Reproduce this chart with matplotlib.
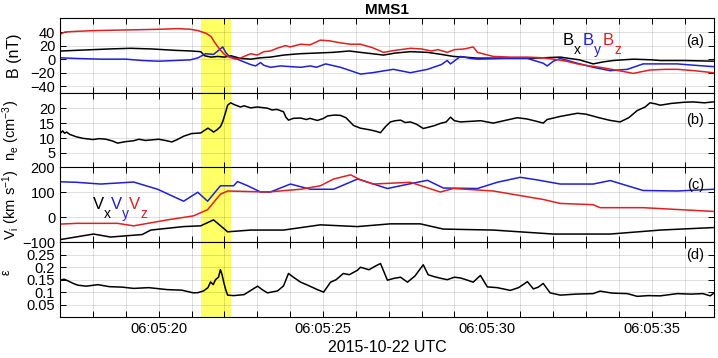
import matplotlib.pyplot as plt
from matplotlib.ticker import MultipleLocator

plt.rcParams['font.family'] = ['Liberation Sans', 'DejaVu Sans']
plt.rcParams['mathtext.fontset'] = 'custom'
plt.rcParams['mathtext.rm'] = 'Liberation Sans'
plt.rcParams['mathtext.it'] = 'Liberation Sans:italic'

# time in seconds after 06:05:00 UTC, 2015-10-22
t_bz = [17.02, 17.15, 17.5, 18.0, 19.0, 20.0, 20.6, 20.97, 21.2, 21.45, 21.6, 21.7, 21.85, 22.0, 22.15, 22.34, 22.5,
        22.8, 23.0, 23.2, 23.4, 23.6, 23.86, 24.0, 24.32, 24.6, 24.92, 25.2, 25.53, 25.84, 26.14, 26.5, 26.84, 27.2,
        27.66, 28.0, 28.3, 28.5, 28.78, 29.0, 29.3, 29.57, 29.7, 30.18, 30.7, 31.22, 31.7, 32.01, 32.4, 32.74, 33.1,
        33.43, 33.9, 34.44, 34.95, 35.4, 35.78, 36.3, 36.87]
bz = [37, 40, 41, 42, 43, 44, 45, 44, 42, 38, 33, 25, 15, 7, 3, 0, 2,
      8, 6, 11, 12, 16, 20, 18, 22, 21, 28, 27, 24, 22, 22, 17, 10, 13,
      16, 15, 12, 14, 10, 14, 15, 18, 10, 4, 3, 3, 2, 0, -3, -7, -10,
      -12, -16, -21, -16, -15, -15, -17, -20]

t_bx = [17.02, 17.5, 18.5, 19.15, 19.8, 20.5, 21.0, 21.28, 21.4, 21.6, 21.8, 22.0, 22.2, 22.5, 22.8, 23.1, 23.4, 23.8,
        24.3, 24.8, 25.3, 25.8, 26.14, 26.5, 26.84, 27.2, 27.66, 28.18, 28.6, 28.97, 29.3, 29.7, 30.5, 31.4, 32.22,
        32.8, 33.22, 33.53, 33.83, 34.44, 35.0, 35.26, 36.0, 36.87]
bx = [12, 13, 15, 16, 15, 13, 12, 11, 5, 3, 4, 3, 5, 1, 0, 2, 3, 6,
      8, 9, 10, 12, 10, 8, 6, 9, 11, 10, 7, 4, 3, 1.5, 1.5, 1.5, 3,
      -1, -7, -4, -2, 0, -1, -2, -2, -3]

t_by = [17.02, 17.5, 18.24, 19.0, 19.5, 20.0, 20.5, 20.97, 21.2, 21.43, 21.67, 21.8, 21.95, 22.04, 22.13, 22.3, 22.49,
        22.8, 22.95, 23.1, 23.2, 23.4, 23.71, 24.0, 24.32, 24.62, 24.8, 25.08, 25.53, 25.84, 26.14, 26.5, 27.14,
        27.66, 28.18, 28.6, 28.78, 28.88, 29.18, 29.5, 29.7, 30.5, 31.22, 31.7, 31.82, 32.01, 32.22, 32.74, 33.22,
        33.74, 34.26, 34.74, 35.78, 36.3, 36.87]
by = [2, 1, 0, 0, -2, -3, -2, -1, 2, 8, 7, 12, 18, 10, 5, 2, -2,
      -8, -10, -5, -9, -12, -10, -11, -12, -10, -12, -7, -12, -17, -22, -20, -15,
      -20, -15, -8, -2, -7, 4, 1, 0, 1, 1, -6, -10, -3, 1, -6, -12,
      -17, -15, -7, -7, -9, -11]

t_ne = [17.02, 17.08, 17.14, 17.2, 17.3, 17.5, 17.7, 18.0, 18.2, 18.4, 18.6, 18.75, 19.0, 19.24, 19.4, 19.6, 19.8,
        20.0, 20.2, 20.4, 20.55, 20.76, 21.0, 21.28, 21.4, 21.5, 21.6, 21.67, 21.78, 21.88, 21.95, 22.02, 22.1, 22.19,
        22.3, 22.49, 22.6, 22.8, 23.0, 23.31, 23.45, 23.6, 23.8, 23.87, 23.95, 24.1, 24.32, 24.5, 24.6, 24.83, 25.0,
        25.14, 25.35, 25.53, 25.7, 25.93, 26.14, 26.4, 26.6, 26.75, 26.9, 27.05, 27.2, 27.36, 27.5, 27.66, 27.85,
        28.05, 28.2, 28.4, 28.57, 28.75, 28.88, 29.0, 29.18, 29.5, 29.8, 30.18, 30.5, 30.91, 31.2, 31.5, 31.7, 31.82,
        32.2, 32.74, 33.0, 33.4, 33.74, 34.04, 34.3, 34.56, 34.8, 34.95, 35.1, 35.26, 35.6, 36.0, 36.26, 36.6, 36.87]
ne = [11.7, 12.4, 11.6, 12.0, 11.2, 10.4, 9.9, 9.5, 9.8, 9.6, 9.0, 8.3, 8.8, 9.1, 9.6, 9.2, 9.4,
      9.6, 9.2, 8.7, 9.4, 10.6, 11.5, 11.7, 12.6, 13.3, 12.6, 12.0, 12.8, 13.8, 15.5, 18.0, 21.0, 21.8,
      21.2, 20.4, 20.8, 20.1, 20.4, 20.0, 19.4, 19.6, 18.8, 17.0, 16.0, 16.6, 16.7, 16.2, 16.6, 15.9, 16.5,
      17.4, 17.7, 17.6, 16.8, 14.2, 13.3, 12.8, 12.3, 11.8, 13.8, 15.4, 15.8, 16.0, 15.2, 15.4, 14.6,
      13.2, 13.6, 14.2, 14.9, 15.4, 17.0, 15.8, 15.4, 15.6, 15.8, 15.0, 15.8, 16.8, 16.4, 15.6, 15.0, 16.2,
      17.2, 18.3, 18.0, 16.8, 15.9, 15.4, 16.8, 19.2, 20.4, 21.8, 21.5, 21.0, 21.6, 22.0, 22.1, 21.8, 22.1]

t_vy = [17.02, 17.5, 18.24, 19.24, 19.97, 20.76, 21.19, 21.49, 21.88, 22.28, 22.4, 22.71, 23.1, 23.4, 24.01, 24.62,
        25.32, 26.05, 26.14, 26.96, 27.5, 28.18, 28.66, 29.7, 30.3, 31.0, 31.5, 32.22, 33.22, 33.74, 34.74, 35.78, 36.87]
vy = [142, 140, 133, 141, 112, 64, 100, 64, 126, 126, 143, 126, 101, 101, 133, 112,
      112, 153, 150, 115, 130, 148, 117, 115, 140, 160, 150, 133, 133, 147, 107, 105, 112]

t_vz = [17.02, 17.5, 18.75, 19.24, 20.27, 21.06, 21.49, 21.88, 22.1, 23.31, 24.32, 24.92, 25.32, 25.84, 26.14, 26.53,
        27.66, 28.57, 28.97, 30.18, 31.7, 32.22, 33.22, 33.43, 34.74, 36.87]
vz = [-28, -25, -25, -35, -11, 5, 30, 92, 105, 101, 112, 126, 153, 170, 150, 133,
      140, 101, 115, 105, 71, 55, 50, 38, 38, 23]

t_vx = [17.02, 18.02, 18.54, 19.5, 19.76, 20.76, 21.28, 21.67, 22.1, 22.8, 23.8, 24.92, 26.05, 27.05, 27.96, 28.66,
        30.18, 32.01, 33.74, 35.26, 36.87]
vx = [-90, -68, -80, -70, -52, -38, -35, -11, -59, -52, -52, -31, -38, -27, -27, -48,
      -52, -68, -68, -52, -42]

t_eps = [17.02, 17.12, 17.23, 17.4, 17.54, 17.8, 18.15, 18.5, 18.9, 19.24, 19.7, 20.27, 20.7, 21.06, 21.2, 21.37,
         21.5, 21.58, 21.66, 21.73, 21.82, 21.88, 21.93, 21.98, 22.04, 22.1, 22.28, 22.6, 23.01, 23.15, 23.31, 23.62,
         23.8, 23.95, 24.1, 24.32, 24.5, 24.83, 25.02, 25.23, 25.4, 25.62, 25.8, 26.05, 26.14, 26.4, 26.6, 26.75,
         26.96, 27.15, 27.36, 27.57, 27.8, 28.05, 28.2, 28.36, 28.6, 28.78, 29.0, 29.18, 29.35, 29.57, 29.79, 30.0,
         30.3, 30.7, 30.95, 31.22, 31.4, 31.55, 31.7, 31.91, 32.22, 32.7, 33.22, 33.43, 33.8, 34.26, 34.56, 34.9,
         35.26, 35.78, 36.2, 36.56, 36.78, 36.87]
eps = [0.148, 0.152, 0.146, 0.135, 0.128, 0.124, 0.13, 0.122, 0.12, 0.115, 0.118, 0.11, 0.108, 0.097, 0.098, 0.105,
       0.118, 0.141, 0.13, 0.15, 0.16, 0.19, 0.17, 0.14, 0.11, 0.088, 0.086, 0.09, 0.124, 0.11, 0.097, 0.105,
       0.125, 0.175, 0.16, 0.14, 0.13, 0.11, 0.1, 0.14, 0.15, 0.175, 0.17, 0.188, 0.2, 0.19, 0.205, 0.215,
       0.148, 0.155, 0.16, 0.14, 0.165, 0.21, 0.17, 0.163, 0.155, 0.15, 0.16, 0.157, 0.15, 0.14, 0.167, 0.121,
       0.118, 0.107, 0.118, 0.142, 0.113, 0.12, 0.135, 0.097, 0.088, 0.092, 0.094, 0.104, 0.096, 0.094, 0.083, 0.086,
       0.085, 0.094, 0.092, 0.094, 0.085, 0.094]

tick_pos = [20, 25, 30, 35]
tick_labels = ['06:05:20', '06:05:25', '06:05:30', '06:05:35']
band = (21.3, 22.2)

fig = plt.figure(figsize=(7.18, 3.58), dpi=100)
left, width, h = 0.0836, 0.911, 0.2085
bottoms = [0.740, 0.531, 0.324, 0.1145]
axes = [fig.add_axes([left, b, width, h]) for b in bottoms]

for ax in axes:
    ax.axvspan(band[0], band[1], color='#ffff66', lw=0, zorder=0)
    ax.set_xlim(17.0, 36.9)
    ax.xaxis.set_major_locator(MultipleLocator(5))
    ax.xaxis.set_minor_locator(MultipleLocator(1))
    ax.grid(True, which='both', axis='x', color='k', alpha=0.13, lw=0.7)
    ax.grid(True, which='major', axis='y', color='k', alpha=0.13, lw=0.7)
    ax.tick_params(which='both', direction='in', top=True, right=True, length=4, width=0.7, labelsize=10.5)
    for s in ax.spines.values():
        s.set_linewidth(0.8)
    ax.set_xticks(tick_pos)
    ax.set_xticklabels([])


def comp_label(ax, x, y, letter, sub, color):
    # letter with a low, fairly large subscript, like the MATLAB legend text
    ax.text(x, y, letter, color=color, fontsize=12, transform=ax.transAxes, va='center')
    ax.text(x + 0.0172, y - 0.13, sub, color=color, fontsize=10, transform=ax.transAxes, va='center')


lw = 1.1
blue, red = '#1f1fd6', '#e02020'
ax = axes[0]
ax.plot(t_bx, bx, color='k', lw=lw)
ax.plot(t_by, by, color=blue, lw=lw)
ax.plot(t_bz, bz, color=red, lw=lw)
ax.set_ylim(-50, 60)
ax.set_yticks([-40, -20, 0, 20, 40])
ax.set_ylabel('B (nT)', fontsize=11.5)
ax.set_title('MMS1', fontsize=11, fontweight='bold', pad=3)
comp_label(ax, 0.768, 0.71, 'B', 'x', 'k')
comp_label(ax, 0.799, 0.71, 'B', 'y', blue)
comp_label(ax, 0.830, 0.71, 'B', 'z', red)
ax.text(0.985, 0.70, '(a)', fontsize=10.5, transform=ax.transAxes, va='center', ha='right')

ax = axes[1]
ax.plot(t_ne, ne, color='k', lw=lw)
ax.set_ylim(0, 25)
ax.set_yticks([5, 10, 15, 20])
ax.set_ylabel(r'n$_{\rm e}$ (cm$^{-3}$)', fontsize=10.5)
ax.text(0.985, 0.64, '(b)', fontsize=10.5, transform=ax.transAxes, va='center', ha='right')

ax = axes[2]
ax.plot(t_vx, vx, color='k', lw=lw)
ax.plot(t_vy, vy, color=blue, lw=lw)
ax.plot(t_vz, vz, color=red, lw=lw)
ax.set_ylim(-100, 200)
ax.set_yticks([-100, 0, 100, 200])
ax.set_ylabel(r'V$_{\rm i}$ (km s$^{-1}$)', fontsize=10.5)
comp_label(ax, 0.050, 0.50, 'V', 'x', 'k')
comp_label(ax, 0.078, 0.50, 'V', 'y', blue)
comp_label(ax, 0.106, 0.50, 'V', 'z', red)
ax.text(0.985, 0.77, '(c)', fontsize=10.5, transform=ax.transAxes, va='center', ha='right')

ax = axes[3]
ax.plot(t_eps, eps, color='k', lw=lw)
ax.set_ylim(0, 0.3)
ax.set_yticks([0.05, 0.1, 0.15, 0.2, 0.25])
ax.set_yticklabels(['0.05', '0.1', '0.15', '0.2', '0.25'])
ax.set_ylabel('ε', fontsize=9)
ax.text(0.985, 0.83, '(d)', fontsize=10.5, transform=ax.transAxes, va='center', ha='right')
ax.set_xticklabels(tick_labels)
ax.set_xlabel('2015-10-22 UTC', fontsize=11.5, labelpad=3)

for ax in axes:
    ax.yaxis.set_label_coords(-0.058, 0.5)
axes[3].yaxis.set_label_coords(-0.072, 0.6)

plt.savefig('out.png', dpi=100)
